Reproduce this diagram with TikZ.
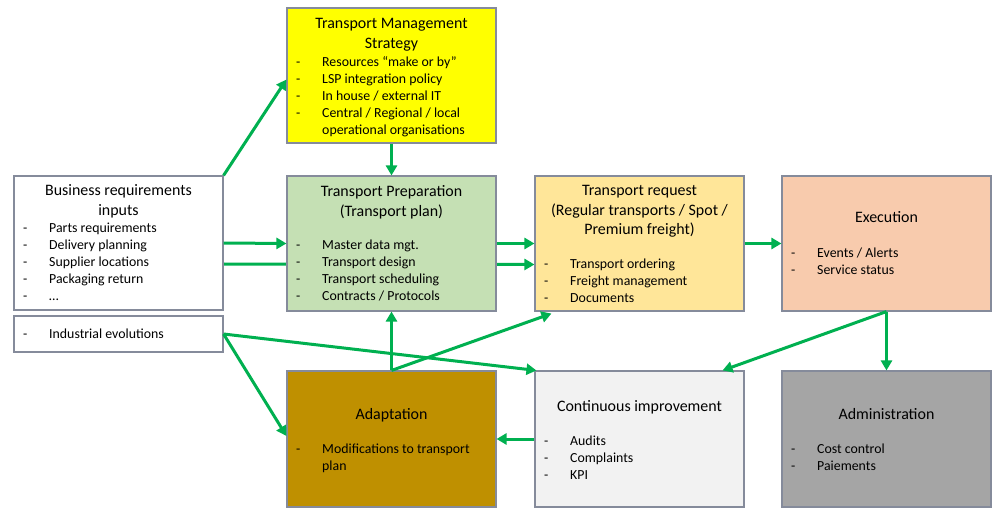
\documentclass[tikz,border=0pt]{standalone}
\usepackage{fontspec}
\setmainfont{Carlito}
\usetikzlibrary{arrows.meta,calc,backgrounds}

\definecolor{edgegray}{HTML}{858B9B}
\definecolor{flowgreen}{HTML}{00B050}
\definecolor{stratyellow}{HTML}{FFFF00}
\definecolor{prepgreen}{HTML}{C5E0B4}
\definecolor{reqorange}{HTML}{FFE699}
\definecolor{execsalmon}{HTML}{F8CBAD}
\definecolor{adapgold}{HTML}{BF9000}
\definecolor{ciwhite}{HTML}{F2F2F2}
\definecolor{admingray}{HTML}{A5A5A5}

\tikzset{
    box/.style={draw=edgegray,line width=1.1bp,minimum width=209bp,minimum height=135bp,inner sep=0pt},
    headtext/.style={anchor=base,inner sep=0pt,font=\fontsize{16}{19.5}\selectfont},
    entrytext/.style={anchor=base west,inner sep=0pt,font=\fontsize{13.9}{17}\selectfont},
    flow/.style={draw=flowgreen,line width=3bp,-{Triangle[length=10bp,width=11bp]}}
}

% title lines: name, centre x, centre y of first line, lines
\newcommand{\heading}[4]{%
    \foreach \t [count=\i] in {#4}
        \node[headtext] (#1h\i) at (#2,#3+19.5*\i-14.5) {\t};}

% dashed list: name, box left x, centre y of first item, items
\newcommand{\entries}[4]{%
    \foreach \t [count=\i] in {#4}
    {
        \node[entrytext] (#1d\i) at (#2+9,#3+17*\i-12.5) {-};
        \node[entrytext] (#1e\i) at (#2+35,#3+17*\i-12.5) {\t};
    }}

\begin{document}
\begin{tikzpicture}[x=1bp,y=-1bp]
    \useasboundingbox (0,0) rectangle (999,512);

    % boxes
    \node[box,fill=stratyellow] (tms) at (391.5,75.5) {};
    \node[box,fill=white,minimum height=134bp] (bri) at (118.5,243) {};
    \node[box,fill=white,minimum height=36bp] (ind) at (118.5,334) {};
    \node[box,fill=prepgreen] (tp) at (391.5,243.5) {};
    \node[box,fill=reqorange] (tr) at (639.5,243.5) {};
    \node[box,fill=execsalmon] (exec) at (886.5,243.5) {};
    \node[box,fill=adapgold,minimum height=136bp] (adap) at (391.5,439) {};
    \node[box,fill=ciwhite,minimum height=136bp] (ci) at (639.5,439) {};
    \node[box,fill=admingray,minimum height=136bp] (admin) at (886.5,439) {};

    % texts
    \heading{tms}{391.5}{24}{Transport Management,Strategy}
    \entries{tms}{287}{62}{Resources “make or by”,LSP integration policy,In house / external IT,Central / Regional / local}
    \node[entrytext] (tmsx) at (322,134.5) {operational organisations};

    \heading{bri}{118.5}{191}{Business requirements,inputs}
    \entries{bri}{14}{228}{Parts requirements,Delivery planning,Supplier locations,Packaging return,{\ldots}}
    \entries{ind}{14}{334}{Industrial evolutions}

    \heading{tp}{391.5}{192}{Transport Preparation,{(Transport plan)}}
    \entries{tp}{287}{245}{Master data mgt.,Transport design,Transport scheduling,Contracts / Protocols}

    \heading{tr}{639.5}{191}{Transport request,{(Regular transports / Spot /},Premium freight)}
    \entries{tr}{535}{264}{Transport ordering,Freight management,Documents}

    \heading{exec}{886.5}{218}{Execution}
    \entries{exec}{782}{253}{Events / Alerts,Service status}

    \heading{adap}{391.5}{414}{Adaptation}
    \entries{adap}{287}{449}{Modifications to transport}
    \node[entrytext] (adapx) at (322,470.5) {plan};

    \heading{ci}{639.5}{406}{Continuous improvement}
    \entries{ci}{535}{441}{Audits,Complaints,KPI}

    \heading{admin}{886.5}{414}{Administration}
    \entries{admin}{782}{449}{Cost control,Paiements}

    % connectors
    \begin{pgfonlayer}{background}
        \draw[flow] ($(bri.east)+(0,21)$) -- ($(tr.west)+(0,21)$);
    \end{pgfonlayer}
    \draw[flow] (bri.north east) -- ($(tms.west)+(0,4)$);
    \draw[flow] (bri.east) -- (tp.west);
    \draw[flow] (tms.south) -- (tp.north);
    \draw[flow] (tp.east) -- (tr.west);
    \draw[flow] (tr.east) -- (exec.west);
    \draw[flow] (exec.south) -- ($(ci.north east)+(-22,0)$);
    \draw[flow] (exec.south) -- (admin.north);
    \draw[flow] (ind.east) -- ($(ci.north west)+(2,0)$);
    \draw[flow] (ind.east) -- ($(adap.west)+(0,-3)$);
    \draw[flow] (adap.north) -- (tp.south);
    \draw[flow] (adap.north) -- ($(tr.south west)+(17,2)$);
    \draw[flow] (ci.west) -- (adap.east);
\end{tikzpicture}
\end{document}
